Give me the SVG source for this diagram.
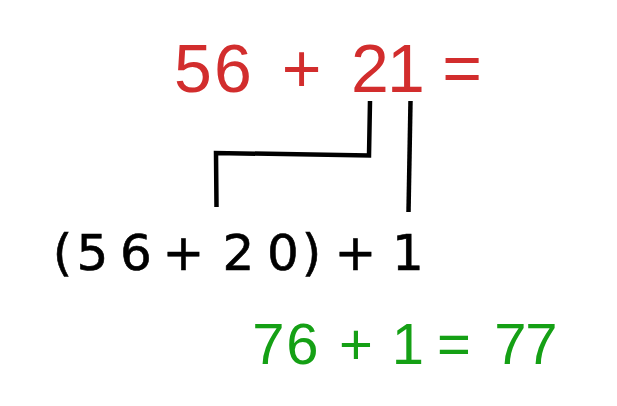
<svg xmlns="http://www.w3.org/2000/svg" width="617" height="406" viewBox="0 0 617 406">
<style>
text{text-anchor:middle}
.t{font-family:"Liberation Sans",Arial,sans-serif}
.red{fill:#d22d2d;font-size:68px}
.blk{fill:#000;font-size:50px;font-family:"DejaVu Sans","Liberation Sans",sans-serif;stroke:#000;stroke-width:0.6}
.grn{fill:#15a015;font-size:58px}
.ln{fill:none;stroke:#000;stroke-width:4.5;stroke-linecap:butt;stroke-linejoin:miter}
</style>
<rect width="617" height="406" fill="#fff"/>
<g id="top-equation">
<text class="t red" x="193 233 267 301.5 336 370 406 430 462" y="92">56 + 21 =</text>
</g>
<g id="split-expression">
<text class="blk" x="62.5 92.5 136 160 183.5 210 238.5 283 311.5 330 355.5 380 408" y="270">(56 + 20) + 1</text>
</g>
<g id="result">
<text class="t grn" x="268.5 302.5 330 356 380 408 430 454 480 510.5 541.5" y="364">76 + 1 = 77</text>
</g>
<g id="connectors">
<path class="ln" d="M216.5 207 L216 153 L369 155.5 L370 101"/>
<path class="ln" d="M410.5 101 L408.5 212"/>
</g>
</svg>
